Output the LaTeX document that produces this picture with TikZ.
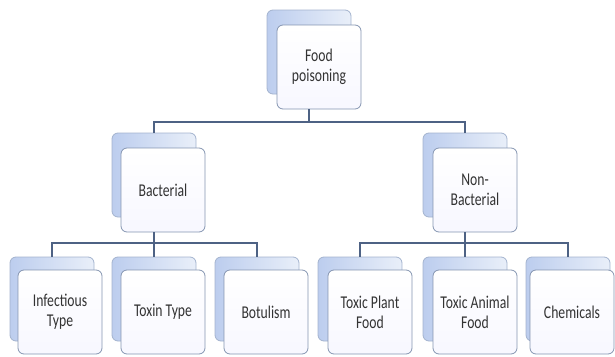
\documentclass[tikz,border=0pt]{standalone}
\usepackage{fontspec}
\setmainfont{Carlito}[FakeStretch=0.76]
\definecolor{linkblue}{HTML}{4E6284}
\definecolor{backedge}{HTML}{A3B3CE}
\definecolor{backleft}{HTML}{BCCDEE}
\definecolor{backright}{HTML}{E9EFF9}
\definecolor{frontedge}{HTML}{8595B1}
\definecolor{textgray}{HTML}{333333}
\tikzset{
  backbox/.style={draw=backedge, line width=0.8pt, rounded corners=6pt,
    left color=backleft, right color=backright,
    minimum width=84pt, minimum height=84pt},
  frontbox/.style={draw=frontedge, line width=0.8pt, rounded corners=6pt,
    top color=white, bottom color=blue!3,
    minimum width=84pt, minimum height=84pt, align=center,
    text=textgray, font=\fontsize{18}{20}\selectfont},
  link/.style={draw=linkblue, line width=2.4pt}
}
\begin{document}
\begin{tikzpicture}[x=1pt, y=-1pt]
\useasboundingbox (0,0) rectangle (615,356);
% top level
\node[backbox] (rootb) at (309, 52) {};
\node[frontbox] (root) at (319, 67) {Food\\poisoning};
% second level
\node[backbox] (bactb) at (154, 175) {};
\node[frontbox] (bact) at (163, 190) {Bacterial};
\node[backbox] (nonb) at (465, 175) {};
\node[frontbox] (non) at (475, 190) {Non-\\Bacterial};
% leaves
\node[backbox] (infb) at (52, 299) {};
\node[frontbox] (inf) at (60, 312) {Infectious\\Type};
\node[backbox] (toxb) at (154, 299) {};
\node[frontbox] (tox) at (163, 312) {Toxin Type};
\node[backbox] (botb) at (257, 299) {};
\node[frontbox] (bot) at (266, 312) {Botulism};
\node[backbox] (plantb) at (360, 299) {};
\node[frontbox] (plant) at (370, 312) {Toxic Plant\\Food};
\node[backbox] (animb) at (465, 299) {};
\node[frontbox] (anim) at (475, 312) {Toxic Animal\\Food};
\node[backbox] (chemb) at (568, 299) {};
\node[frontbox] (chem) at (572, 312) {Chemicals};

\coordinate (bus1) at (0, 122);
\coordinate (bus2) at (0, 243);

\draw[link] (rootb |- root.south) -- (rootb |- bus1) -| (bactb.north);
\draw[link] (rootb |- bus1) -| (nonb.north);
\draw[link] (bactb |- bact.south) -- (bactb |- bus2) -| (infb.north);
\draw[link] (bactb |- bus2) -- (toxb.north);
\draw[link] (bactb |- bus2) -| (botb.north);
\draw[link] (nonb |- non.south) -- (nonb |- bus2) -| (plantb.north);
\draw[link] (nonb |- bus2) -- (animb.north);
\draw[link] (nonb |- bus2) -| (chemb.north);
\end{tikzpicture}
\end{document}
